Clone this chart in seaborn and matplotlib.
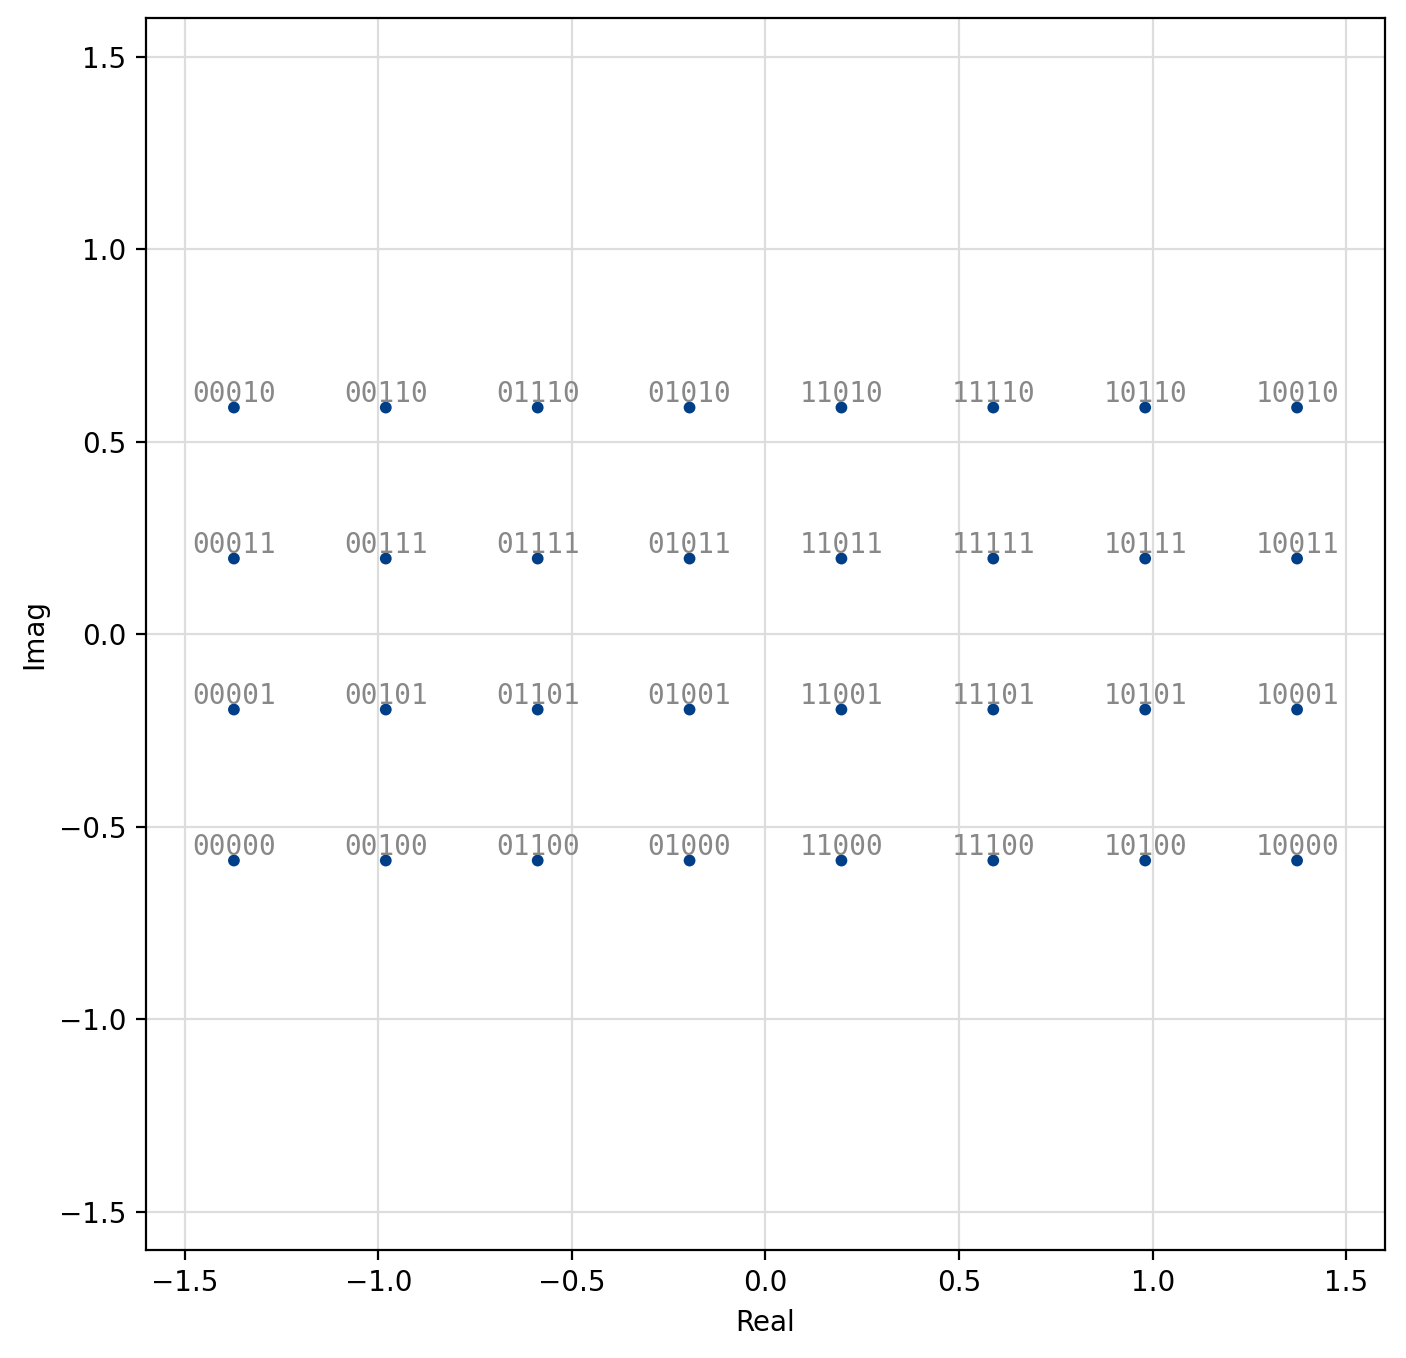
import matplotlib
matplotlib.use('Agg')
from matplotlib import pyplot as plt
import pandas as pd
import seaborn as sns

# constellation levels (normalized 32-QAM, 8x4 grid)
real_levels = [-1.3728, -0.9806, -0.5883, -0.1961, 0.1961, 0.5883, 0.9806, 1.3728]
imag_levels = [0.5883, 0.1961, -0.1961, -0.5883]
# gray-coded bit prefixes per column, suffixes per row
col_bits = ['000', '001', '011', '010', '110', '111', '101', '100']
row_bits = ['10', '11', '01', '00']

rows = []
for re_v, cb in zip(real_levels, col_bits):
    for im_v, rb in zip(imag_levels, row_bits):
        rows.append({'Real': re_v, 'Imag': im_v, 'bits': cb + rb})
df = pd.DataFrame(rows)

sns.set_style('white', {'text.color': 'black', 'axes.labelcolor': 'black',
                        'xtick.color': 'black', 'ytick.color': 'black'})
fig = plt.figure(figsize=(7.03, 6.79), dpi=200)
ax = fig.add_axes([0.1038, 0.0795, 0.8813, 0.9072])

ax.grid(True, color='#dddddd', linewidth=0.8)
ax.set_axisbelow(True)
sns.scatterplot(data=df, x='Real', y='Imag', ax=ax, color='#003f87', s=18,
                edgecolor='none', zorder=3)

for _, r in df.iterrows():
    ax.text(r['Real'], r['Imag'], r['bits'], ha='center', va='bottom',
            family='DejaVu Sans Mono', fontsize=10, color='#888888', zorder=4)

ax.set_xlim(-1.6, 1.6)
ax.set_ylim(-1.6, 1.6)
ax.set_xticks([-1.5, -1.0, -0.5, 0.0, 0.5, 1.0, 1.5])
ax.set_yticks([-1.5, -1.0, -0.5, 0.0, 0.5, 1.0, 1.5])
ax.tick_params(axis='both', which='both', direction='out', length=3.5,
               width=0.8, labelsize=10, left=True, bottom=True,
               colors='black', labelcolor='black')
for sp in ax.spines.values():
    sp.set_color('black')
    sp.set_linewidth(0.8)
ax.set_xlabel('Real', fontsize=10, color='black')
ax.set_ylabel('Imag', fontsize=10, color='black')

fig.savefig('out.png', dpi=200)
plt.close(fig)
